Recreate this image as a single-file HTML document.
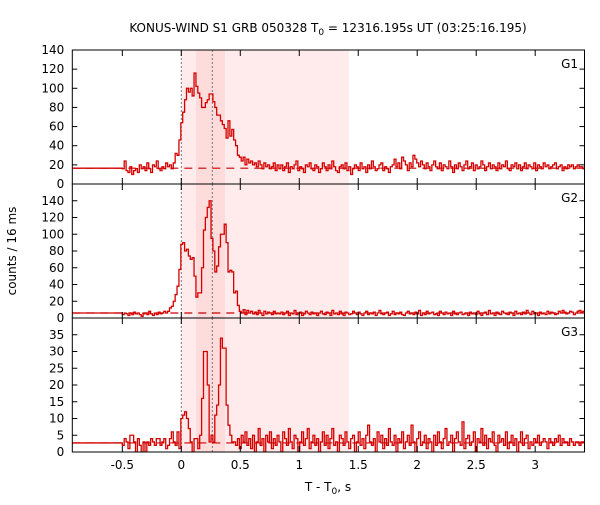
<!DOCTYPE html>
<html><head><meta charset="utf-8"><style>
body{margin:0;background:#fff;}
svg text{font-family:"DejaVu Sans","Liberation Sans",sans-serif;font-size:12px;fill:#000;}
</style></head><body>
<svg id="chart" width="600" height="500" xmlns="http://www.w3.org/2000/svg">
<text x="328" y="32" text-anchor="middle">KONUS-WIND S1 GRB 050328 T<tspan font-size="9" dy="3">0</tspan><tspan dy="-3"> = 12316.195s UT (03:25:16.195)</tspan></text>
<text x="328" y="491" text-anchor="middle">T - T<tspan font-size="9" dy="3">0</tspan><tspan dy="-3">, s</tspan></text>
<text transform="translate(16,251) rotate(-90)" text-anchor="middle">counts / 16 ms</text>
</svg>
<script>
const binStart = -0.5, binWidth = 0.016;
const xTicks = [-0.5,0,0.5,1,1.5,2,2.5,3];
const xTickLabels = ["-0.5","0","0.5","1","1.5","2","2.5","3"];
const panelNames = ["G1","G2","G3"];
const yMaxes = [140,160,40];
const yTickSteps = [20,20,5];
const yTickMaxes = [140,140,35];
const bgLevels = [16.5,6,2.7];
const shadeLight = [0,1.42];
const shadeDark = [0.125,0.37];
const markerTimes = [0,0.263];
const g1 = [16,24,14,12,18,10,14,16,12,20,16,18,14,22,16,12,20,18,24,16,14,18,16,22,
18,20,16,22,32,30,46,64,75,88,100,96,100,92,116,102,95,90,80,80,85,88,94,94,86,80,72,72,66,62,58,48,66,50,57,46,40,30,28,
24,28,20,26,22,24,20,22,18,24,20,16,22,18,20,16,18,22,14,20,
16,20,14,18,22,12,18,16,20,24,14,18,16,12,20,18,22,16,14,20,
18,12,16,22,18,14,20,16,24,18,14,12,18,20,16,22,14,18,10,16,
20,18,14,22,16,18,12,20,16,24,18,14,16,20,22,14,18,16,12,18,
20,26,18,22,16,28,24,20,14,22,18,30,26,22,18,24,20,16,22,18,
14,20,24,18,16,22,14,20,18,16,24,18,12,20,16,22,18,14,20,24,
16,18,22,14,20,16,18,24,20,14,18,22,16,20,18,14,22,16,20,18,
24,16,14,20,18,22,16,20,14,18,22,16,20,18,16,22,14,20,18,16,
22,18,20,16,18,20,22,16,18,20,14,18,16,20,18,20,16,18,20,18,18,16];
const g2 = [4,6,5,3,6,4,7,5,6,4,2,5,6,4,8,5,3,6,4,7,5,6,8,6,
8,12,14,20,28,38,58,88,90,80,82,74,70,72,50,25,30,30,60,105,120,132,140,95,80,55,62,85,100,100,112,90,55,57,55,30,32,15,8,
6,10,4,9,6,8,5,7,4,9,6,3,8,5,7,6,4,8,5,6,
5,7,4,6,8,3,6,5,9,4,6,7,3,5,8,6,4,7,5,6,
3,6,8,5,4,7,6,3,9,5,6,4,8,5,3,7,6,4,5,8,
6,4,7,5,3,6,8,4,6,5,7,3,6,9,5,4,6,7,3,5,
8,4,6,5,7,4,3,6,8,5,6,4,7,5,9,3,6,4,8,5,
6,7,4,5,3,8,6,4,7,5,6,3,8,5,4,6,7,4,5,6,
3,7,5,6,4,8,5,3,6,7,4,9,5,6,3,7,5,4,8,6,
5,4,7,6,3,8,5,6,4,7,5,9,6,4,8,5,6,3,7,5,
6,4,8,5,7,6,4,5,8,6,9,7,5,6,8,7,4,6,8,9,7,8];
const g3 = [2,4,3,1,5,5,3,0,4,2,0,3,0,3,2,4,3,2,4,4,2,3,4,1,
2,4,6,3,2,6,1,10,11,12,10,7,3,0,4,4,1,5,16,30,30,20,3,5,3,11,14,20,34,31,31,14,8,5,3,3,2,4,1,
5,3,6,2,4,1,5,0,3,7,2,4,0,5,3,6,1,4,2,5,
3,0,6,4,2,7,3,1,5,4,0,3,6,2,4,7,1,3,5,2,
4,0,3,6,2,5,1,4,7,2,3,0,5,4,2,6,3,1,4,5,
0,3,6,2,4,1,5,8,3,2,4,0,6,3,5,1,4,2,7,3,
2,5,0,4,3,6,1,3,5,2,8,3,0,4,6,2,3,5,1,4,
3,0,5,2,6,3,1,4,7,2,3,5,0,4,6,3,2,9,1,4,
5,2,3,6,0,4,3,7,2,5,1,4,3,6,2,0,5,3,4,2,
6,1,3,5,2,4,0,3,6,2,4,5,1,3,2,4,3,5,2,3,
4,3,1,4,3,2,4,3,5,2,4,3,3,2,4,3,2,3,3,2,3,3];
const seriesList = [g1,g2,g3];

const NS="http://www.w3.org/2000/svg";
const svg=document.getElementById('chart');
const L=72.3,R=584.5,xMin=-0.924,xMax=3.418;
const panelTops=[50,184,318],panelH=134;
const xs=t=>L+(t-xMin)/(xMax-xMin)*(R-L);
function mk(tag,attrs,parent){const e=document.createElementNS(NS,tag);for(const k in attrs)e.setAttribute(k,attrs[k]);(parent||svg).appendChild(e);return e;}
const defs=mk('defs',{});
const cp=mk('clipPath',{id:'plotclip'},defs);
mk('rect',{x:L,y:50,width:R-L,height:402},cp);

panelNames.forEach((nm,p)=>{
  const top=panelTops[p],bot=top+panelH,ymax=yMaxes[p];
  const ys=v=>bot-v/ymax*panelH;
  const g=mk('g',{});
  
  
  const s1=mk('rect',{x:xs(shadeLight[0]),y:top,width:xs(shadeLight[1])-xs(shadeLight[0]),height:panelH,fill:'#ffebeb'},g);
  
  
  const s2=mk('rect',{x:xs(shadeDark[0]),y:top,width:xs(shadeDark[1])-xs(shadeDark[0]),height:panelH,fill:'#ffdcdc'},g);
  
  
  markerTimes.forEach(t=>{
    const l=mk('line',{x1:xs(t),x2:xs(t),y1:top,y2:bot,stroke:'#777','stroke-width':1,'stroke-dasharray':'2,2'},g);
    
    
  });
  const bg=mk('line',{x1:L,x2:R,y1:ys(bgLevels[p]),y2:ys(bgLevels[p]),stroke:'#cc0000','stroke-width':1.2,'stroke-dasharray':'8,6'},g);
  
  
  const data=seriesList[p];
  let d='M'+L+','+ys(bgLevels[p])+'H'+xs(binStart);
  data.forEach((v,i)=>{const t0=binStart+i*binWidth;d+='V'+ys(v).toFixed(2)+'H'+xs(t0+binWidth).toFixed(2);});
  const path=mk('path',{d:d,fill:'none',stroke:'#d40000','stroke-width':1.3,'clip-path':'url(#plotclip)'},g);
  
  
  const fr=mk('rect',{x:L,y:top,width:R-L,height:panelH,fill:'none',stroke:'#000','stroke-width':1},g);
  
  
  for(let v=0;v<=yTickMaxes[p];v+=yTickSteps[p]){
    const y=ys(v);
    mk('line',{x1:L,x2:L+5,y1:y,y2:y,stroke:'#000'},g);
    mk('line',{x1:R,x2:R-5,y1:y,y2:y,stroke:'#000'},g);
    const tx=mk('text',{x:L-8,y:y+4,'text-anchor':'end'},g);
    tx.textContent=v;
    
    
  }
  xTicks.forEach(t=>{
    mk('line',{x1:xs(t),x2:xs(t),y1:bot,y2:bot-6,stroke:'#000'},g);
    mk('line',{x1:xs(t),x2:xs(t),y1:top,y2:top+6,stroke:'#000'},g);
  });
  const lab=mk('text',{x:578,y:top+18,'text-anchor':'end'},g);
  lab.textContent=nm;
  
  
});
xTicks.forEach((t,i)=>{
  const tx=mk('text',{x:xs(t),y:469,'text-anchor':'middle'});
  tx.textContent=xTickLabels[i];
  
  
});
</script>
</body></html>
